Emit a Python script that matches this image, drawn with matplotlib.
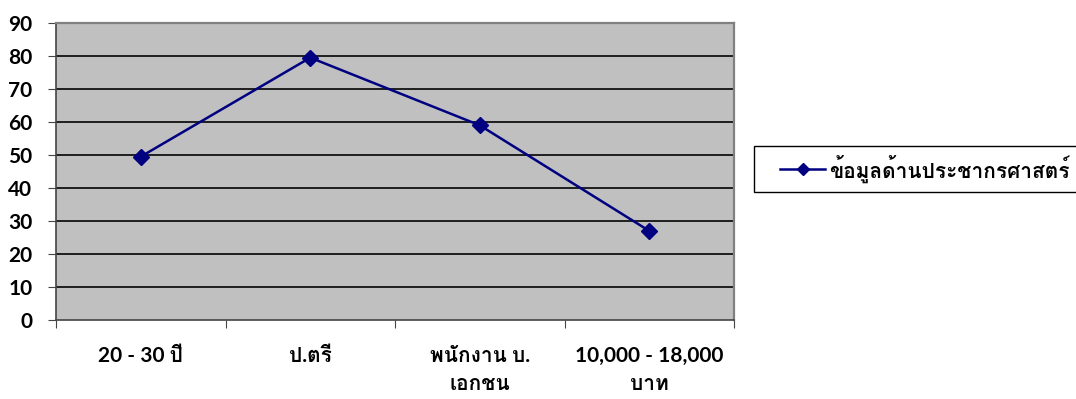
import matplotlib
matplotlib.use("Agg")
import matplotlib.pyplot as plt
from matplotlib import font_manager
from matplotlib.ft2font import FT2Font
from matplotlib.lines import Line2D
from matplotlib.patches import Rectangle

categories = ["20 - 30 ปี", "ป.ตรี", "พนักงาน บ.\nเอกชน", "10,000 - 18,000\nบาท"]
values = [49.5, 79.5, 59, 27]
series_name = "ข้อมูลด้านประชากรศาสตร์"
y_ticks = list(range(0, 100, 10))

W, H = 1076, 399
NAVY = "#000080"


def thai_families():
    found = []
    for f in font_manager.fontManager.ttflist:
        try:
            cmap = FT2Font(f.fname).get_charmap()
        except Exception:
            continue
        if 0x0E02 in cmap and f.name not in found:
            found.append(f.name)
    return found


families = ["Lato"] + thai_families() + ["DejaVu Sans"]
plt.rcParams["font.family"] = families
FS = 15

fig = plt.figure(figsize=(W / 100, H / 100), dpi=100)
ax = fig.add_axes([56 / W, 1 - 320 / H, (734 - 56) / W, (320 - 23) / H])
ax.set_facecolor("#c0c0c0")

x = list(range(len(categories)))
ax.plot(x, values, color=NAVY, lw=1.8, marker="D", ms=8, mec=NAVY, mfc=NAVY, zorder=3)

ax.set_xlim(-0.5, len(categories) - 0.5)
ax.set_ylim(0, 90)
ax.set_yticks(y_ticks)
ax.set_yticklabels([str(v) for v in y_ticks], fontsize=FS, fontweight="bold")
for v in y_ticks[1:-1]:
    ax.axhline(v, color="#111111", lw=1.3, zorder=0.5)

# category boundaries as ticks, labels centred between them
ax.set_xticks([i - 0.5 for i in range(len(categories) + 1)])
ax.set_xticklabels([])
ax.set_xticks(x, minor=True)
ax.set_xticklabels(categories, minor=True, fontsize=FS, fontweight="bold",
                   linespacing=1.45)
ax.tick_params(axis="x", which="minor", length=0, pad=19)
ax.tick_params(axis="x", which="major", length=6, direction="out", color="#444444")
ax.tick_params(axis="y", length=6, direction="out", color="#444444", pad=11)

for side in ["top", "right"]:
    ax.spines[side].set_color("#808080")
    ax.spines[side].set_linewidth(1.6)
for side in ["left", "bottom"]:
    ax.spines[side].set_color("#444444")
    ax.spines[side].set_linewidth(1.2)

# legend box to the right of the plot
fig.add_artist(Rectangle((754 / W, 1 - 192 / H), 340 / W, 46 / H,
                         transform=fig.transFigure, facecolor="white",
                         edgecolor="black", lw=1.0))
fig.add_artist(Line2D([780 / W, 825 / W], [1 - 169 / H] * 2, transform=fig.transFigure,
                      color=NAVY, lw=1.8))
fig.add_artist(Line2D([802.5 / W], [1 - 169 / H], transform=fig.transFigure,
                      color=NAVY, marker="D", ms=6, mfc=NAVY, mec=NAVY))
fig.text(829 / W, 1 - 169 / H, series_name, fontsize=FS, fontweight="bold",
         va="center", ha="left")

fig.savefig("out.png", dpi=100)
